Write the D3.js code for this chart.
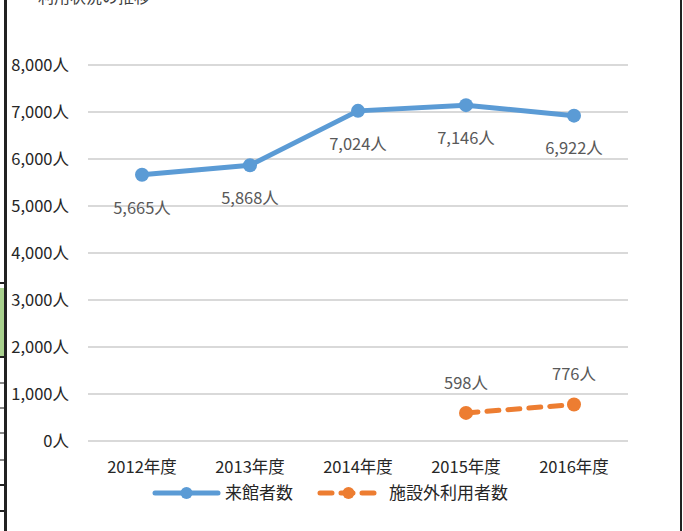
<!DOCTYPE html>
<html>
<head>
<meta charset="utf-8">
<script src="https://cdn.jsdelivr.net/npm/d3@7"></script>
<style>
  body { margin: 0; background: #fff; }
  svg { display: block; font-family: "Noto Sans CJK JP", "Noto Sans", sans-serif; }
</style>
</head>
<body>
<div id="chart"></div>
<script>
// data
var years = [ '2012年度', '2013年度', '2014年度', '2015年度', '2016年度' ];
var visitors = [ 5665, 5868, 7024, 7146, 6922 ];
var outside = [ null, null, null, 598, 776 ];
var yTicks = [ 0, 1000, 2000, 3000, 4000, 5000, 6000, 7000, 8000 ];
var seriesNames = [ '来館者数', '施設外利用者数' ];

var chart = {};

chart.render = function( root ) {
    var width = 683;
    var height = 531;

    var plot = { left: 88, right: 628, top: 65, bottom: 441 };

    var svg = d3.select( root )
                .append( 'svg' )
                .attr( 'width', width )
                .attr( 'height', height );

    var x = d3.scaleBand()
              .domain( years )
              .range( [ plot.left, plot.right ] );

    var y = d3.scaleLinear()
              .domain( [ 0, 8000 ] )
              .range( [ plot.bottom, plot.top ] );

    chart.drawFrame( svg );
    chart.drawAxes( svg, x, y, plot );

    var blue = '#5b9bd5';
    var orange = '#ed7d31';

    var rows1 = years.map( function( d, i ) { return { year: d, value: visitors[ i ] }; } );
    var rows2 = years.map( function( d, i ) { return { year: d, value: outside[ i ] }; } )
                     .filter( function( d ) { return d.value != null; } );

    chart.drawSeries( svg, rows1, x, y, blue, null, 33 );
    chart.drawSeries( svg, rows2, x, y, orange, '12,9', -30 );

    chart.drawLegend( svg, blue, orange );
}

// spreadsheet edges around the chart
chart.drawFrame = function( svg ) {
    svg.append( 'text' )
       .attr( 'x', 22 )
       .attr( 'y', 3 )
       .attr( 'font-size', 16 )
       .attr( 'fill', '#404040' )
       .text( '・利用状況の推移' );

    svg.append( 'rect' )
       .attr( 'x', 0 ).attr( 'y', 288 )
       .attr( 'width', 5 ).attr( 'height', 69 )
       .attr( 'fill', '#a9d18e' );

    var cells = [ [ 283, '#222' ], [ 357, '#222' ], [ 383, '#888' ], [ 408, '#888' ],
                  [ 433, '#888' ], [ 460, '#888' ], [ 485, '#222' ], [ 511, '#222' ] ];
    cells.forEach( function( c ) {
        svg.append( 'line' )
           .attr( 'x1', 0 ).attr( 'x2', 5 )
           .attr( 'y1', c[ 0 ] ).attr( 'y2', c[ 0 ] )
           .attr( 'stroke', c[ 1 ] )
           .attr( 'stroke-width', 2 );
    });

    svg.append( 'rect' )
       .attr( 'x', 4 ).attr( 'y', 0 )
       .attr( 'width', 3 ).attr( 'height', 531 )
       .attr( 'fill', '#222' );

    svg.append( 'rect' )
       .attr( 'x', 680 ).attr( 'y', 0 )
       .attr( 'width', 2 ).attr( 'height', 531 )
       .attr( 'fill', '#222' );
}

// grid and labels
chart.drawAxes = function( svg, x, y, plot ) {
    svg.append( 'g' )
       .selectAll( 'line' )
       .data( yTicks )
       .enter()
       .append( 'line' )
       .attr( 'x1', plot.left )
       .attr( 'x2', plot.right )
       .attr( 'y1', function( d ) { return y( d ); } )
       .attr( 'y2', function( d ) { return y( d ); } )
       .attr( 'stroke', '#d9d9d9' )
       .attr( 'stroke-width', 2 );

    svg.append( 'g' )
       .selectAll( 'text' )
       .data( yTicks )
       .enter()
       .append( 'text' )
       .attr( 'x', 69 )
       .attr( 'y', function( d ) { return y( d ); } )
       .attr( 'dy', '0.35em' )
       .attr( 'text-anchor', 'end' )
       .attr( 'font-size', 16.5 )
       .attr( 'fill', '#262626' )
       .text( function( d ) { return d3.format( ',' )( d ) + '人'; } );

    svg.append( 'g' )
       .selectAll( 'text' )
       .data( years )
       .enter()
       .append( 'text' )
       .attr( 'x', function( d ) { return x( d ) + x.bandwidth() / 2; } )
       .attr( 'y', 467 )
       .attr( 'dy', '0.35em' )
       .attr( 'text-anchor', 'middle' )
       .attr( 'font-size', 16.5 )
       .attr( 'fill', '#262626' )
       .text( function( d ) { return d; } );
}

// one line with markers and labels
chart.drawSeries = function( svg, rows, x, y, color, dash, labelOffset ) {
    var cx = function( d ) { return x( d.year ) + x.bandwidth() / 2; };

    var line = d3.line()
                 .x( cx )
                 .y( function( d ) { return y( d.value ); } );

    svg.append( 'path' )
       .datum( rows )
       .attr( 'd', line )
       .attr( 'fill', 'none' )
       .attr( 'stroke', color )
       .attr( 'stroke-width', 5 )
       .attr( 'stroke-linecap', 'round' )
       .attr( 'stroke-linejoin', 'round' )
       .attr( 'stroke-dasharray', dash );

    var g = svg.append( 'g' );

    g.selectAll( 'circle' )
     .data( rows )
     .enter()
     .append( 'circle' )
     .attr( 'cx', cx )
     .attr( 'cy', function( d ) { return y( d.value ); } )
     .attr( 'r', 7 )
     .attr( 'fill', color );

    g.selectAll( 'text' )
     .data( rows )
     .enter()
     .append( 'text' )
     .attr( 'x', cx )
     .attr( 'y', function( d ) { return y( d.value ) + labelOffset; } )
     .attr( 'dy', '0.35em' )
     .attr( 'text-anchor', 'middle' )
     .attr( 'font-size', 16.5 )
     .attr( 'fill', '#595959' )
     .text( function( d ) { return d3.format( ',' )( d.value ) + '人'; } );
}

// legend
chart.drawLegend = function( svg, blue, orange ) {
    var items = [
        { name: seriesNames[ 0 ], color: blue,   dash: null,   x1: 155, x2: 218, text: 225 },
        { name: seriesNames[ 1 ], color: orange, dash: '12,9', x1: 320, x2: 377, text: 389 }
    ];
    var ly = 493;

    items.forEach( function( item ) {
        svg.append( 'line' )
           .attr( 'x1', item.x1 ).attr( 'x2', item.x2 )
           .attr( 'y1', ly ).attr( 'y2', ly )
           .attr( 'stroke', item.color )
           .attr( 'stroke-width', 5 )
           .attr( 'stroke-linecap', 'round' )
           .attr( 'stroke-dasharray', item.dash );

        svg.append( 'circle' )
           .attr( 'cx', ( item.x1 + item.x2 ) / 2 )
           .attr( 'cy', ly )
           .attr( 'r', 6 )
           .attr( 'fill', item.color );

        svg.append( 'text' )
           .attr( 'x', item.text )
           .attr( 'y', ly )
           .attr( 'dy', '0.35em' )
           .attr( 'font-size', 17 )
           .attr( 'fill', '#262626' )
           .text( item.name );
    });
}

chart.render( '#chart' );
</script>
</body>
</html>
